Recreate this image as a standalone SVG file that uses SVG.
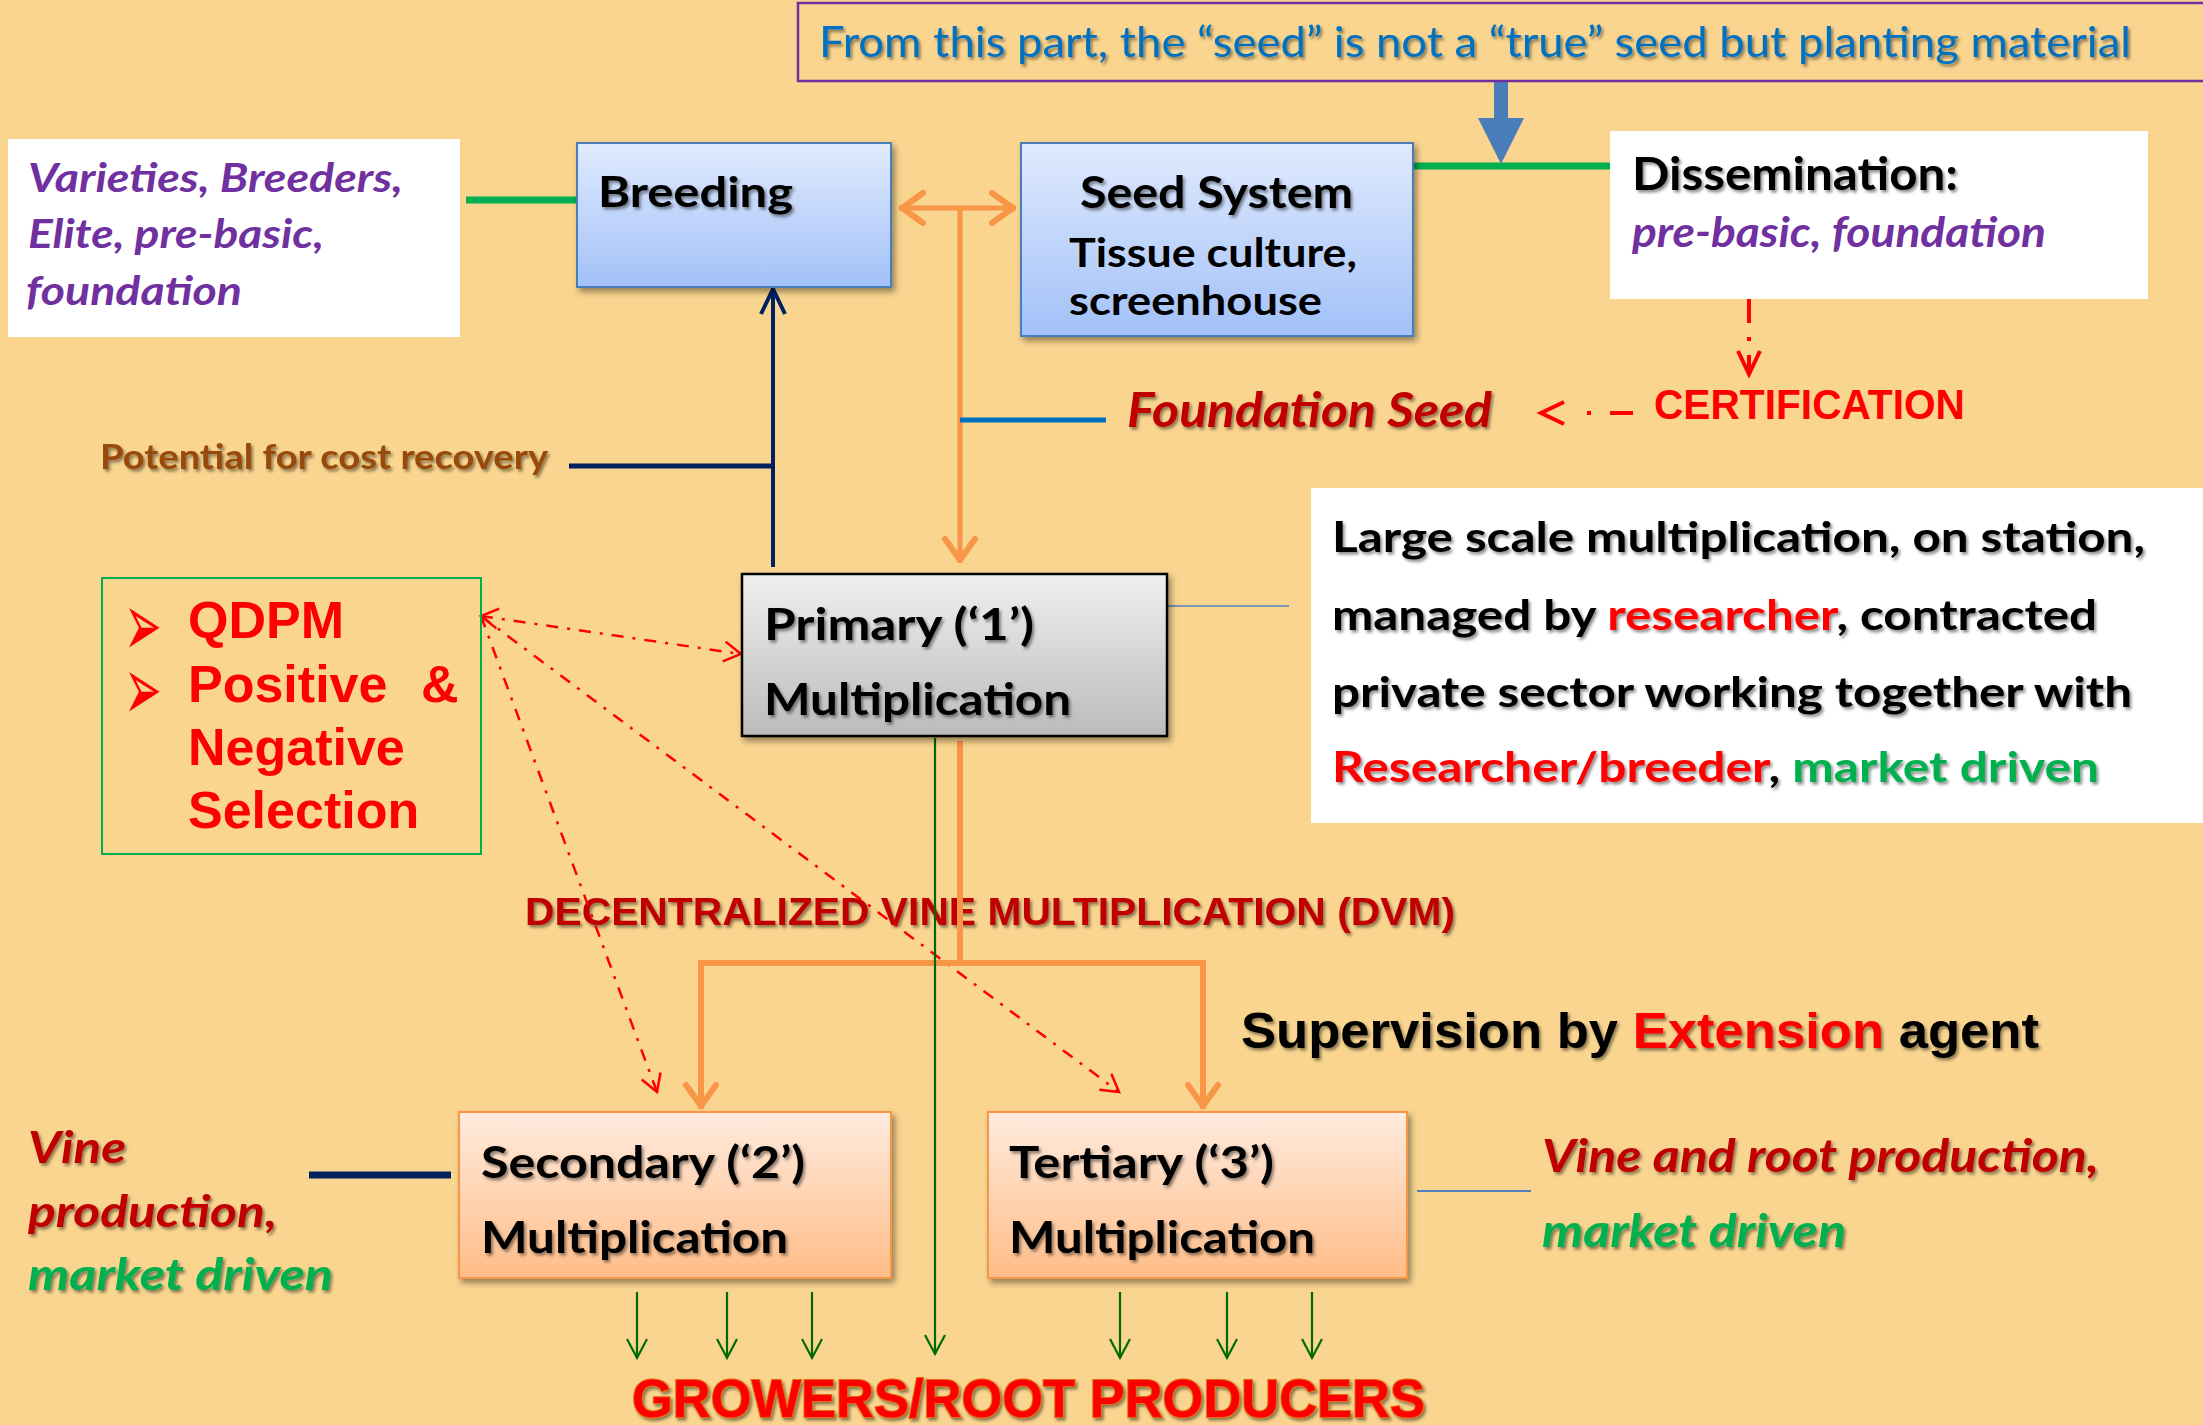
<svg xmlns="http://www.w3.org/2000/svg" width="2203" height="1425" viewBox="0 0 2203 1425">
<style>
.cal{font-family:Lato,"Liberation Sans",sans-serif;font-weight:700}
.ari{font-family:"Liberation Sans",Arial,sans-serif;font-weight:700}
.it{font-style:italic}
.blk{fill:#000}
.red{fill:#FF0000}
.dred{fill:#C00000}
.grn{fill:#00B050}
.pur{fill:#7030A0}
.sh{filter:url(#ts)}
.bul{font-family:"DejaVu Sans",sans-serif;font-size:90px;fill:#FF0000}
</style>
<defs>
<filter id="ts" x="-5%" y="-20%" width="110%" height="150%"><feDropShadow dx="2" dy="2.5" stdDeviation="1.5" flood-color="#000" flood-opacity="0.45"/></filter>
<filter id="bs" x="-10%" y="-10%" width="125%" height="130%"><feDropShadow dx="3" dy="4" stdDeviation="3" flood-color="#000" flood-opacity="0.4"/></filter>
<linearGradient id="gBlue" x1="0" y1="0" x2="0" y2="1"><stop offset="0" stop-color="#E0EAFD"/><stop offset="1" stop-color="#A2C1F8"/></linearGradient>
<linearGradient id="gGray" x1="0" y1="0" x2="0" y2="1"><stop offset="0" stop-color="#F0F0F0"/><stop offset="1" stop-color="#BBBBBB"/></linearGradient>
<linearGradient id="gOrg" x1="0" y1="0" x2="0" y2="1"><stop offset="0" stop-color="#FFEBDE"/><stop offset="1" stop-color="#FFBD88"/></linearGradient>
<marker id="mOr" markerUnits="userSpaceOnUse" orient="auto-start-reverse" overflow="visible" markerWidth="1" markerHeight="1" refX="0" refY="0"><path d="M-24,-15 L-3,0 L-24,15" fill="none" stroke="#F79646" stroke-width="6" stroke-linecap="round" stroke-linejoin="round"/></marker>
<marker id="mNv" markerUnits="userSpaceOnUse" orient="auto" overflow="visible" markerWidth="1" markerHeight="1" refX="0" refY="0"><path d="M-26,-12 L-1,0 L-26,12" fill="none" stroke="#002060" stroke-width="4"/></marker>
<marker id="mGr" markerUnits="userSpaceOnUse" orient="auto" overflow="visible" markerWidth="1" markerHeight="1" refX="0" refY="0"><path d="M-19,-10 L0,0 L-19,10" fill="none" stroke="#006A00" stroke-width="2.2"/></marker>
<marker id="mRd" markerUnits="userSpaceOnUse" orient="auto-start-reverse" overflow="visible" markerWidth="1" markerHeight="1" refX="0" refY="0"><path d="M-17,-10 L0,0 L-17,10" fill="none" stroke="#FF0000" stroke-width="2.5"/></marker>
<marker id="mRdB" markerUnits="userSpaceOnUse" orient="auto" overflow="visible" markerWidth="1" markerHeight="1" refX="0" refY="0"><path d="M-24,-11 L-1,0 L-24,11" fill="none" stroke="#FF0000" stroke-width="4"/></marker>
</defs>

<rect x="0" y="0" width="2203" height="1425" fill="#F9D58F"/>

<!-- free labels -->
<g id="labels">
<text class="cal sh" x="100" y="469" font-size="34" fill="#984807" textLength="448" lengthAdjust="spacingAndGlyphs">Potential for cost recovery</text>
<text class="cal it sh dred" x="1127" y="427" font-size="47" textLength="365" lengthAdjust="spacingAndGlyphs">Foundation Seed</text>
<text class="ari red" x="1654" y="419" font-size="42" textLength="311" lengthAdjust="spacingAndGlyphs">CERTIFICATION</text>
<text class="ari sh dred" x="525" y="925" font-size="39" textLength="930" lengthAdjust="spacingAndGlyphs">DECENTRALIZED VINE MULTIPLICATION (DVM)</text>
<text class="ari sh blk" x="1241" y="1048" font-size="50" textLength="798" lengthAdjust="spacingAndGlyphs">Supervision by <tspan class="red">Extension</tspan> agent</text>
<text class="cal it sh dred" x="28" y="1163" font-size="44" textLength="98" lengthAdjust="spacingAndGlyphs">Vine</text>
<text class="cal it sh dred" x="28" y="1227" font-size="44" textLength="249" lengthAdjust="spacingAndGlyphs">production,</text>
<text class="cal it sh grn" x="28" y="1290" font-size="44" textLength="305" lengthAdjust="spacingAndGlyphs">market driven</text>
<text class="cal it sh dred" x="1542" y="1172" font-size="45" textLength="557" lengthAdjust="spacingAndGlyphs">Vine and root production,</text>
<text class="cal it sh grn" x="1542" y="1247" font-size="45" textLength="304" lengthAdjust="spacingAndGlyphs">market driven</text>
<text class="ari sh" x="632" y="1417" font-size="54" fill="#FF0000" stroke="#E46C0A" stroke-width="2" paint-order="stroke" textLength="793" lengthAdjust="spacingAndGlyphs">GROWERS/ROOT PRODUCERS</text>
</g>

<!-- connectors -->
<g id="connectors" fill="none">
<polygon points="1494,81 1508,81 1508,118 1524,118 1501,164 1478,118 1494,118" fill="#4A7EBB" stroke="none"/>
<line x1="466" y1="200" x2="576" y2="200" stroke="#00B050" stroke-width="7"/>
<line x1="1413" y1="166" x2="1611" y2="166" stroke="#00B050" stroke-width="7"/>
<line x1="899" y1="208" x2="1016" y2="208" stroke="#F79646" stroke-width="5" marker-start="url(#mOr)" marker-end="url(#mOr)"/>
<line x1="960" y1="208" x2="960" y2="563" stroke="#F79646" stroke-width="5" marker-end="url(#mOr)"/>
<line x1="960" y1="420" x2="1106" y2="420" stroke="#0070C0" stroke-width="5"/>
<line x1="1749" y1="299" x2="1749" y2="375" stroke="#FF0000" stroke-width="4" stroke-dasharray="24 14 4 14" marker-end="url(#mRdB)"/>
<line x1="1633" y1="413" x2="1540" y2="413" stroke="#FF0000" stroke-width="4" stroke-dasharray="23 19 4 50" marker-end="url(#mRdB)"/>
<line x1="773" y1="567" x2="773" y2="288" stroke="#002060" stroke-width="4" marker-end="url(#mNv)"/>
<line x1="569" y1="466" x2="773" y2="466" stroke="#002060" stroke-width="5"/>
<line x1="1167" y1="606" x2="1289" y2="606" stroke="#4F81BD" stroke-width="1.5"/>
<line x1="481" y1="616" x2="741" y2="654" stroke="#FF0000" stroke-width="2.5" stroke-dasharray="12 9 3 9" marker-start="url(#mRd)" marker-end="url(#mRd)"/>
<line x1="481" y1="616" x2="657" y2="1092" stroke="#FF0000" stroke-width="2.5" stroke-dasharray="12 9 3 9" marker-end="url(#mRd)"/>
<line x1="481" y1="616" x2="1119" y2="1092" stroke="#FF0000" stroke-width="2.5" stroke-dasharray="12 9 3 9" marker-end="url(#mRd)"/>
<line x1="960" y1="741" x2="960" y2="963" stroke="#F79646" stroke-width="6"/>
<polyline points="701,1109 701,963 1203,963 1203,1109" stroke="#F79646" stroke-width="6" stroke-linejoin="miter" marker-start="url(#mOr)" marker-end="url(#mOr)"/>
<line x1="935" y1="738" x2="935" y2="1354" stroke="#006A00" stroke-width="2.2" marker-end="url(#mGr)"/>
<line x1="309" y1="1175" x2="451" y2="1175" stroke="#002060" stroke-width="7"/>
<line x1="1417" y1="1191" x2="1531" y2="1191" stroke="#4F81BD" stroke-width="2.2"/>
<line x1="637" y1="1292" x2="637" y2="1358" stroke="#006A00" stroke-width="2.2" marker-end="url(#mGr)"/>
<line x1="727" y1="1292" x2="727" y2="1358" stroke="#006A00" stroke-width="2.2" marker-end="url(#mGr)"/>
<line x1="812" y1="1292" x2="812" y2="1358" stroke="#006A00" stroke-width="2.2" marker-end="url(#mGr)"/>
<line x1="1120" y1="1292" x2="1120" y2="1358" stroke="#006A00" stroke-width="2.2" marker-end="url(#mGr)"/>
<line x1="1227" y1="1292" x2="1227" y2="1358" stroke="#006A00" stroke-width="2.2" marker-end="url(#mGr)"/>
<line x1="1312" y1="1292" x2="1312" y2="1358" stroke="#006A00" stroke-width="2.2" marker-end="url(#mGr)"/>
</g>

<!-- nodes -->
<g id="note-top">
<rect x="798" y="3" width="1420" height="78" fill="none" stroke="#7030A0" stroke-width="2.5"/>
<text class="sh" x="819" y="57" font-family="Lato,'Liberation Sans',sans-serif" font-size="42" fill="#0070C0" textLength="1312" lengthAdjust="spacingAndGlyphs">From this part, the “seed” is not a “true” seed but planting material</text>
</g>

<g id="varieties">
<rect x="8" y="139" width="452" height="198" fill="#FFFFFF"/>
<text class="cal it pur" x="28" y="192" font-size="41" textLength="375" lengthAdjust="spacingAndGlyphs">Varieties, Breeders,</text>
<text class="cal it pur" x="28" y="248" font-size="41" textLength="296" lengthAdjust="spacingAndGlyphs">Elite, pre-basic,</text>
<text class="cal it pur" x="26" y="305" font-size="41" textLength="216" lengthAdjust="spacingAndGlyphs">foundation</text>
</g>

<g id="breeding">
<rect x="577" y="143" width="314" height="144" fill="url(#gBlue)" stroke="#4A7EBB" stroke-width="2" filter="url(#bs)"/>
<text class="cal sh blk" x="598" y="207" font-size="42" textLength="195" lengthAdjust="spacingAndGlyphs">Breeding</text>
</g>

<g id="seed-system">
<rect x="1021" y="143" width="392" height="193" fill="url(#gBlue)" stroke="#4A7EBB" stroke-width="2" filter="url(#bs)"/>
<text class="cal sh blk" x="1080" y="208" font-size="43" textLength="273" lengthAdjust="spacingAndGlyphs">Seed System</text>
<text class="cal blk" x="1069" y="267" font-size="40" textLength="288" lengthAdjust="spacingAndGlyphs">Tissue culture,</text>
<text class="cal blk" x="1069" y="315" font-size="40" textLength="253" lengthAdjust="spacingAndGlyphs">screenhouse</text>
</g>

<g id="dissemination">
<rect x="1610" y="131" width="538" height="168" fill="#FFFFFF"/>
<text class="cal sh blk" x="1632" y="190" font-size="46" textLength="326" lengthAdjust="spacingAndGlyphs">Dissemination:</text>
<text class="cal it pur" x="1632" y="247" font-size="42" textLength="414" lengthAdjust="spacingAndGlyphs">pre-basic, foundation</text>
</g>

<g id="qdpm">
<rect x="102" y="578" width="379" height="276" fill="none" stroke="#00B050" stroke-width="2"/>
<text class="bul" transform="scale(0.5,1)"><tspan x="248" y="656">➢</tspan><tspan x="248" y="720">➢</tspan></text>
<text class="ari red" x="188" y="638" font-size="52">QDPM</text>
<text class="ari red" x="188" y="702" font-size="52">Positive</text>
<text class="ari red" x="421" y="702" font-size="52">&amp;</text>
<text class="ari red" x="188" y="765" font-size="52">Negative</text>
<text class="ari red" x="188" y="828" font-size="52">Selection</text>
</g>

<g id="primary">
<rect x="742" y="574" width="425" height="162" fill="url(#gGray)" stroke="#000" stroke-width="2.5" filter="url(#bs)"/>
<text class="cal sh blk" x="764" y="640" font-size="43" textLength="270" lengthAdjust="spacingAndGlyphs">Primary (‘1’)</text>
<text class="cal sh blk" x="764" y="715" font-size="43" textLength="307" lengthAdjust="spacingAndGlyphs">Multiplication</text>
</g>

<g id="large-scale">
<rect x="1311" y="488" width="900" height="335" fill="#FFFFFF"/>
<text class="cal sh blk" x="1332" y="552" font-size="42" textLength="813" lengthAdjust="spacingAndGlyphs">Large scale multiplication, on station,</text>
<text class="cal sh blk" x="1332" y="630" font-size="42" textLength="765" lengthAdjust="spacingAndGlyphs">managed by <tspan class="red">researcher</tspan>, contracted</text>
<text class="cal sh blk" x="1332" y="707" font-size="42" textLength="800" lengthAdjust="spacingAndGlyphs">private sector working together with</text>
<text class="cal sh blk" x="1332" y="782" font-size="42" textLength="767" lengthAdjust="spacingAndGlyphs"><tspan class="red">Researcher/breeder</tspan>, <tspan class="grn">market driven</tspan></text>
</g>

<g id="secondary">
<rect x="459" y="1112" width="432" height="166" fill="url(#gOrg)" stroke="#F79646" stroke-width="2" filter="url(#bs)"/>
<text class="cal sh blk" x="481" y="1178" font-size="43" textLength="324" lengthAdjust="spacingAndGlyphs">Secondary (‘2’)</text>
<text class="cal sh blk" x="481" y="1253" font-size="43" textLength="307" lengthAdjust="spacingAndGlyphs">Multiplication</text>
</g>

<g id="tertiary">
<rect x="988" y="1112" width="419" height="166" fill="url(#gOrg)" stroke="#F79646" stroke-width="2" filter="url(#bs)"/>
<text class="cal sh blk" x="1009" y="1178" font-size="43" textLength="265" lengthAdjust="spacingAndGlyphs">Tertiary (‘3’)</text>
<text class="cal sh blk" x="1009" y="1253" font-size="43" textLength="306" lengthAdjust="spacingAndGlyphs">Multiplication</text>
</g>
</svg>
